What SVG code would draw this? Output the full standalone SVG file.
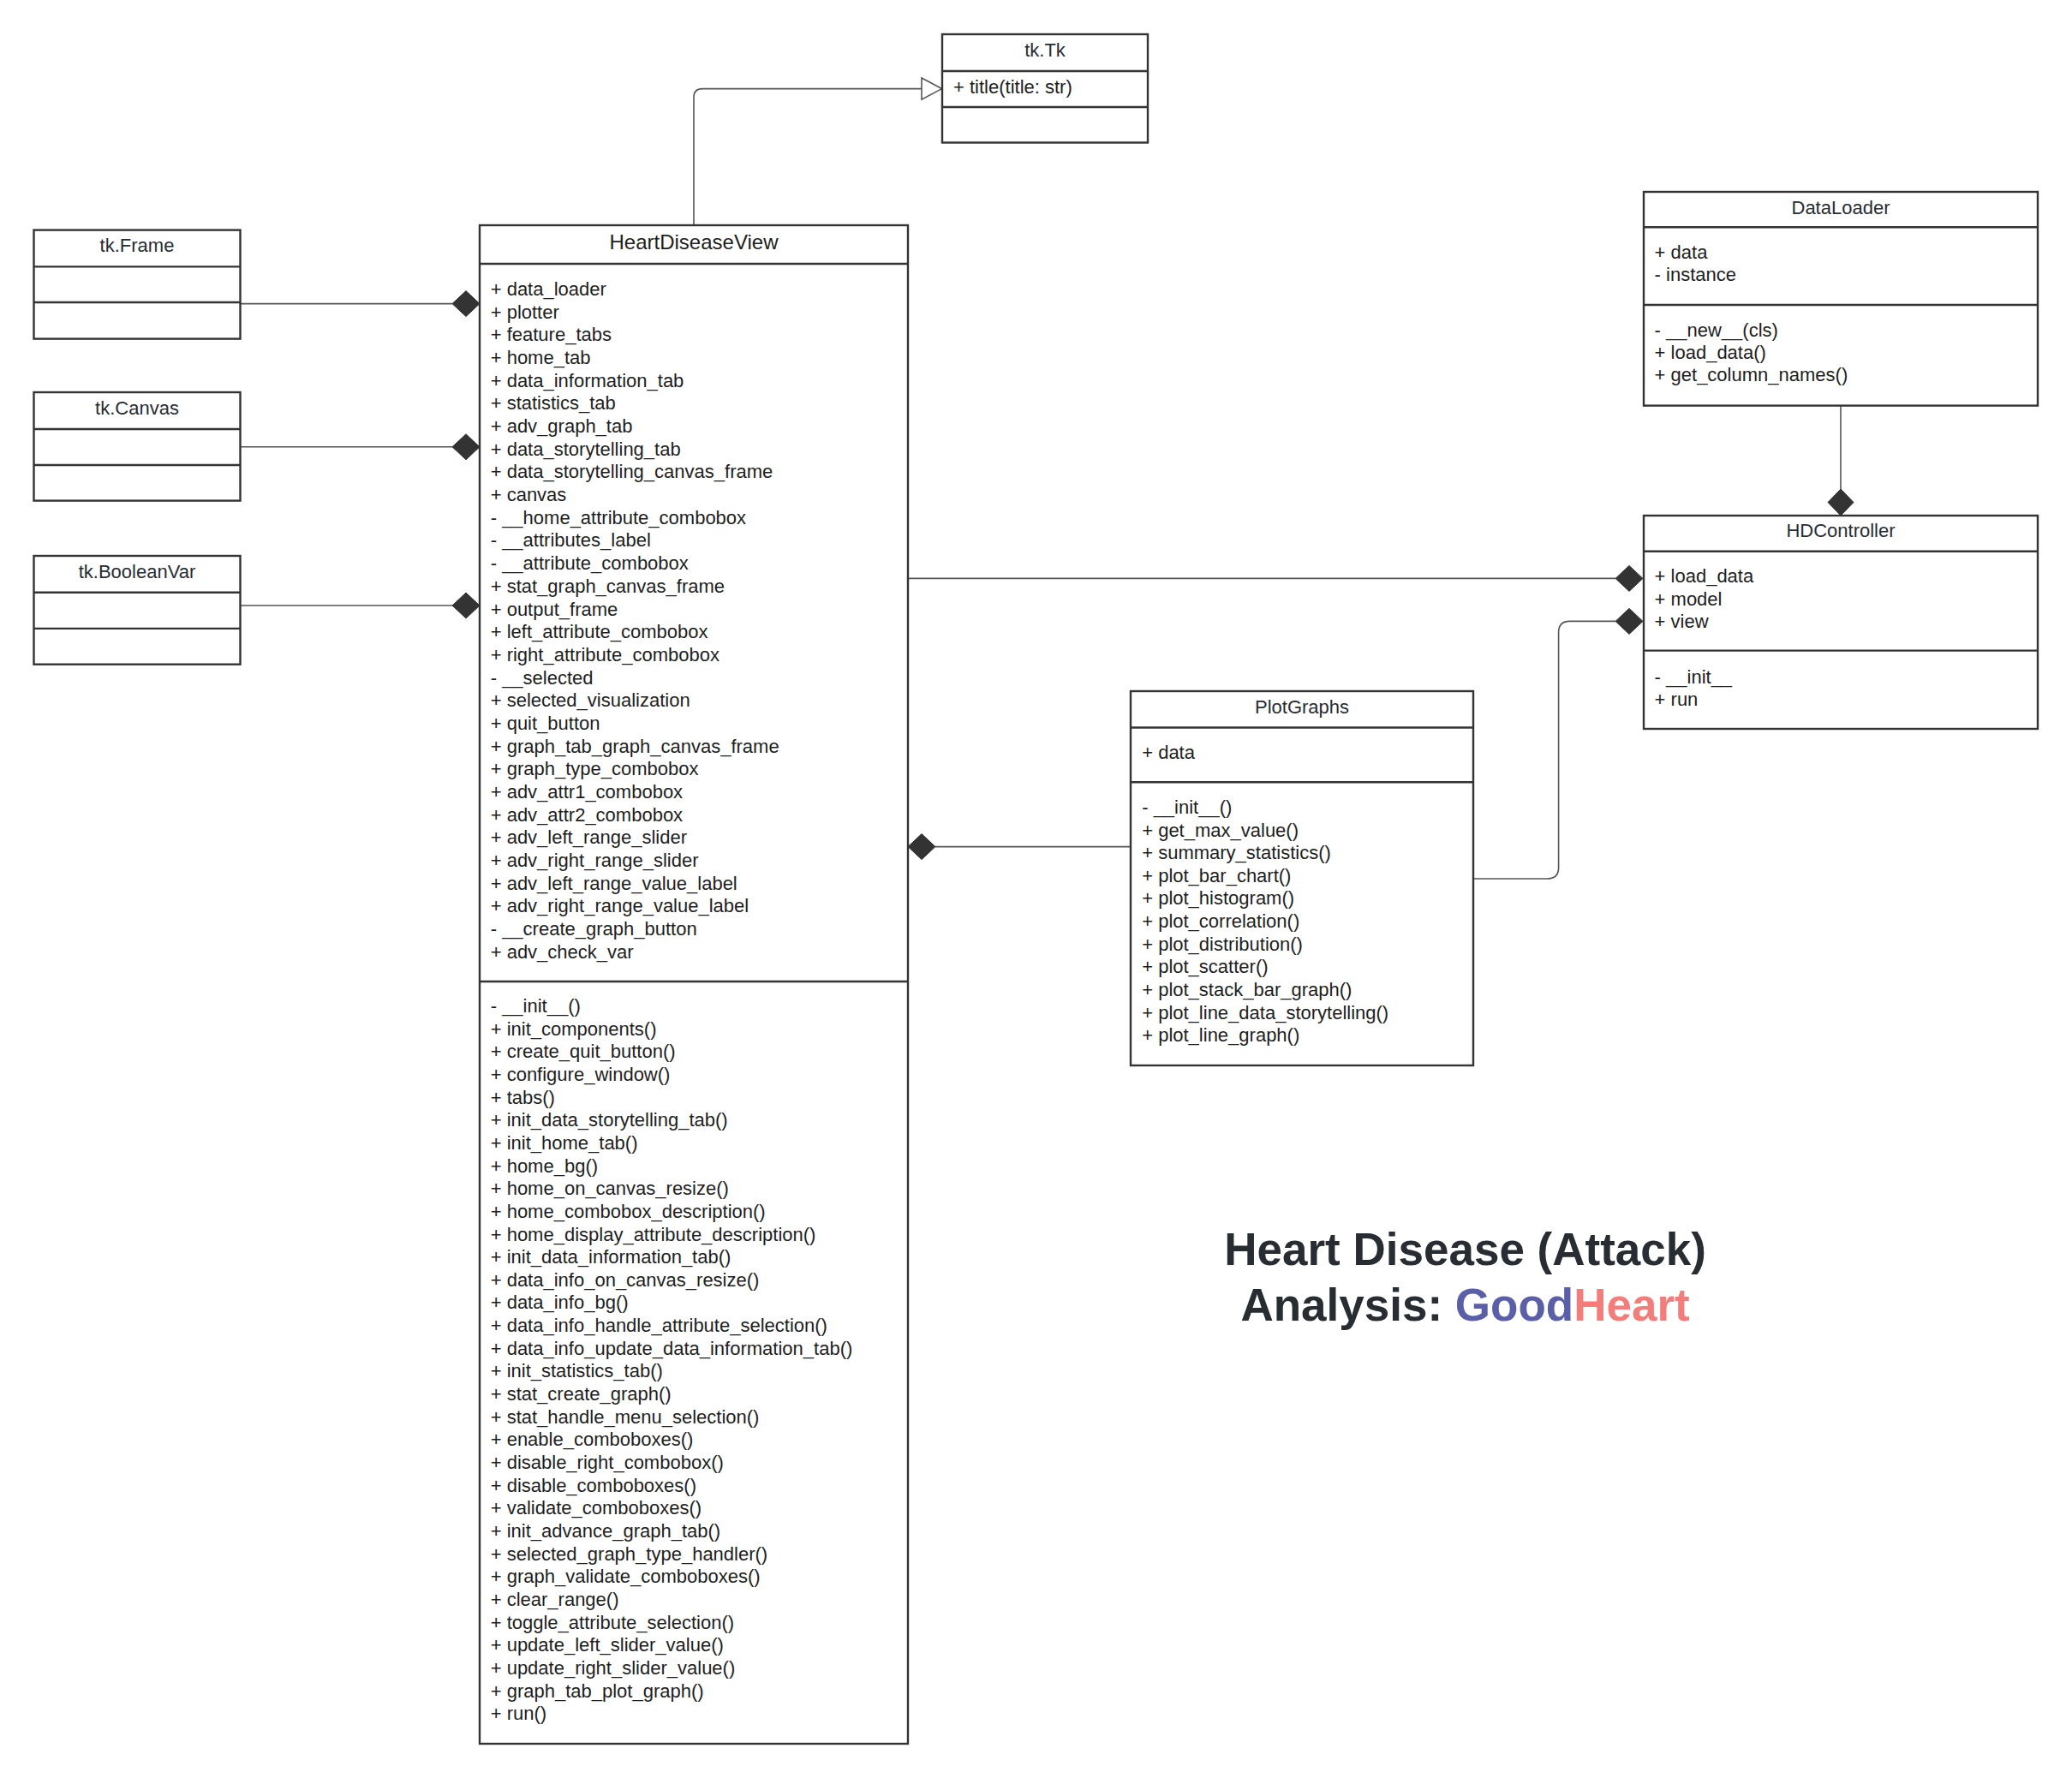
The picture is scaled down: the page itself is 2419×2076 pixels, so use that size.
<svg xmlns="http://www.w3.org/2000/svg" width="2419" height="2076" viewBox="0 0 2419 2076">
<style>
.bg{fill:#ffffff}
.box{fill:#ffffff;stroke:#333333;stroke-width:2.4}
.sep{stroke:#333333;stroke-width:2.4}
.hd{font-family:"Liberation Sans",Arial,sans-serif;font-size:22px;fill:#282c33;text-anchor:middle}
.hdl{font-family:"Liberation Sans",Arial,sans-serif;font-size:24px;fill:#1e1e1e;text-anchor:middle}
.tx{font-family:"Liberation Sans",Arial,sans-serif;font-size:22px;fill:#1e1e1e}
.conn{fill:none;stroke:#555555;stroke-width:1.6}
.dia{fill:#333333;stroke:#333333;stroke-width:1}
.tri{fill:#ffffff;stroke:#555555;stroke-width:1.6}
.title{font-family:"Liberation Sans",Arial,sans-serif;font-size:53px;font-weight:bold;fill:#282c33;text-anchor:middle}
</style>
<rect class="bg" x="0" y="0" width="2419" height="2076"/>

<g id="connectors">
  <!-- generalization HDV -> tk.Tk -->
  <path class="conn" d="M810 263 V113.6 Q810 103.6 820 103.6 H1076"/>
  <polygon class="tri" points="1076,91 1099.5,103.6 1076,116.2"/>
  <!-- tk.Frame -> HDV -->
  <line class="conn" x1="281" y1="354.6" x2="528" y2="354.6"/>
  <polygon class="dia" points="528,354.6 544,339.6 560,354.6 544,369.6"/>
  <!-- tk.Canvas -> HDV -->
  <line class="conn" x1="281" y1="521.8" x2="528" y2="521.8"/>
  <polygon class="dia" points="528,521.8 544,506.8 560,521.8 544,536.8"/>
  <!-- tk.BooleanVar -> HDV -->
  <line class="conn" x1="281" y1="707" x2="528" y2="707"/>
  <polygon class="dia" points="528,707 544,692 560,707 544,722"/>
  <!-- HDV -> HDController -->
  <line class="conn" x1="1061" y1="675.4" x2="1886" y2="675.4"/>
  <polygon class="dia" points="1886,675.4 1902,660.4 1918,675.4 1902,690.4"/>
  <!-- PlotGraphs -> HDV -->
  <line class="conn" x1="1092" y1="988.6" x2="1319" y2="988.6"/>
  <polygon class="dia" points="1060,988.6 1076,973.6 1092,988.6 1076,1003.6"/>
  <!-- PlotGraphs -> HDController -->
  <path class="conn" d="M1721 1026 H1806.6 Q1819.6 1026 1819.6 1013 V738.4 Q1819.6 725.4 1832.6 725.4 H1886"/>
  <polygon class="dia" points="1886,725.4 1902,710.4 1918,725.4 1902,740.4"/>
  <!-- DataLoader -> HDController -->
  <line class="conn" x1="2149" y1="474" x2="2149" y2="571"/>
  <polygon class="dia" points="2149,571 2164,586.5 2149,602 2134,586.5"/>
</g>

<g id="tk-Tk">
  <rect class="box" x="1100" y="40" width="240" height="126.5"/>
  <line class="sep" x1="1100" y1="83" x2="1340" y2="83"/>
  <line class="sep" x1="1100" y1="125" x2="1340" y2="125"/>
  <text class="hd" x="1220" y="66.2">tk.Tk</text>
  <text class="tx" x="1113" y="108.8">+ title(title: str)</text>
</g>

<g id="tk-Frame">
  <rect class="box" x="39.5" y="268.6" width="241" height="127"/>
  <line class="sep" x1="39.5" y1="311.4" x2="280.5" y2="311.4"/>
  <line class="sep" x1="39.5" y1="353" x2="280.5" y2="353"/>
  <text class="hd" x="160" y="294.3">tk.Frame</text>
</g>

<g id="tk-Canvas">
  <rect class="box" x="39.5" y="458" width="241" height="126.6"/>
  <line class="sep" x1="39.5" y1="501" x2="280.5" y2="501"/>
  <line class="sep" x1="39.5" y1="543" x2="280.5" y2="543"/>
  <text class="hd" x="160" y="484.3">tk.Canvas</text>
</g>

<g id="tk-BooleanVar">
  <rect class="box" x="39.5" y="649" width="241" height="126.7"/>
  <line class="sep" x1="39.5" y1="691.8" x2="280.5" y2="691.8"/>
  <line class="sep" x1="39.5" y1="733.9" x2="280.5" y2="733.9"/>
  <text class="hd" x="160" y="675">tk.BooleanVar</text>
</g>

<g id="HeartDiseaseView">
  <rect class="box" x="560" y="263" width="500" height="1773"/>
  <line class="sep" x1="560" y1="308" x2="1060" y2="308"/>
  <line class="sep" x1="560" y1="1146" x2="1060" y2="1146"/>
  <text class="hdl" x="810" y="291">HeartDiseaseView</text>
  <text class="tx" x="572.7" y="345">
    <tspan x="572.7" dy="0">+ data_loader</tspan>
    <tspan x="572.7" dy="26.68">+ plotter</tspan>
    <tspan x="572.7" dy="26.68">+ feature_tabs</tspan>
    <tspan x="572.7" dy="26.68">+ home_tab</tspan>
    <tspan x="572.7" dy="26.68">+ data_information_tab</tspan>
    <tspan x="572.7" dy="26.68">+ statistics_tab</tspan>
    <tspan x="572.7" dy="26.68">+ adv_graph_tab</tspan>
    <tspan x="572.7" dy="26.68">+ data_storytelling_tab</tspan>
    <tspan x="572.7" dy="26.68">+ data_storytelling_canvas_frame</tspan>
    <tspan x="572.7" dy="26.68">+ canvas</tspan>
    <tspan x="572.7" dy="26.68">- __home_attribute_combobox</tspan>
    <tspan x="572.7" dy="26.68">- __attributes_label</tspan>
    <tspan x="572.7" dy="26.68">- __attribute_combobox</tspan>
    <tspan x="572.7" dy="26.68">+ stat_graph_canvas_frame</tspan>
    <tspan x="572.7" dy="26.68">+ output_frame</tspan>
    <tspan x="572.7" dy="26.68">+ left_attribute_combobox</tspan>
    <tspan x="572.7" dy="26.68">+ right_attribute_combobox</tspan>
    <tspan x="572.7" dy="26.68">- __selected</tspan>
    <tspan x="572.7" dy="26.68">+ selected_visualization</tspan>
    <tspan x="572.7" dy="26.68">+ quit_button</tspan>
    <tspan x="572.7" dy="26.68">+ graph_tab_graph_canvas_frame</tspan>
    <tspan x="572.7" dy="26.68">+ graph_type_combobox</tspan>
    <tspan x="572.7" dy="26.68">+ adv_attr1_combobox</tspan>
    <tspan x="572.7" dy="26.68">+ adv_attr2_combobox</tspan>
    <tspan x="572.7" dy="26.68">+ adv_left_range_slider</tspan>
    <tspan x="572.7" dy="26.68">+ adv_right_range_slider</tspan>
    <tspan x="572.7" dy="26.68">+ adv_left_range_value_label</tspan>
    <tspan x="572.7" dy="26.68">+ adv_right_range_value_label</tspan>
    <tspan x="572.7" dy="26.68">- __create_graph_button</tspan>
    <tspan x="572.7" dy="26.68">+ adv_check_var</tspan>
  </text>
  <text class="tx" x="572.7" y="1182">
    <tspan x="572.7" dy="0">- __init__()</tspan>
    <tspan x="572.7" dy="26.65">+ init_components()</tspan>
    <tspan x="572.7" dy="26.65">+ create_quit_button()</tspan>
    <tspan x="572.7" dy="26.65">+ configure_window()</tspan>
    <tspan x="572.7" dy="26.65">+ tabs()</tspan>
    <tspan x="572.7" dy="26.65">+ init_data_storytelling_tab()</tspan>
    <tspan x="572.7" dy="26.65">+ init_home_tab()</tspan>
    <tspan x="572.7" dy="26.65">+ home_bg()</tspan>
    <tspan x="572.7" dy="26.65">+ home_on_canvas_resize()</tspan>
    <tspan x="572.7" dy="26.65">+ home_combobox_description()</tspan>
    <tspan x="572.7" dy="26.65">+ home_display_attribute_description()</tspan>
    <tspan x="572.7" dy="26.65">+ init_data_information_tab()</tspan>
    <tspan x="572.7" dy="26.65">+ data_info_on_canvas_resize()</tspan>
    <tspan x="572.7" dy="26.65">+ data_info_bg()</tspan>
    <tspan x="572.7" dy="26.65">+ data_info_handle_attribute_selection()</tspan>
    <tspan x="572.7" dy="26.65">+ data_info_update_data_information_tab()</tspan>
    <tspan x="572.7" dy="26.65">+ init_statistics_tab()</tspan>
    <tspan x="572.7" dy="26.65">+ stat_create_graph()</tspan>
    <tspan x="572.7" dy="26.65">+ stat_handle_menu_selection()</tspan>
    <tspan x="572.7" dy="26.65">+ enable_comboboxes()</tspan>
    <tspan x="572.7" dy="26.65">+ disable_right_combobox()</tspan>
    <tspan x="572.7" dy="26.65">+ disable_comboboxes()</tspan>
    <tspan x="572.7" dy="26.65">+ validate_comboboxes()</tspan>
    <tspan x="572.7" dy="26.65">+ init_advance_graph_tab()</tspan>
    <tspan x="572.7" dy="26.65">+ selected_graph_type_handler()</tspan>
    <tspan x="572.7" dy="26.65">+ graph_validate_comboboxes()</tspan>
    <tspan x="572.7" dy="26.65">+ clear_range()</tspan>
    <tspan x="572.7" dy="26.65">+ toggle_attribute_selection()</tspan>
    <tspan x="572.7" dy="26.65">+ update_left_slider_value()</tspan>
    <tspan x="572.7" dy="26.65">+ update_right_slider_value()</tspan>
    <tspan x="572.7" dy="26.65">+ graph_tab_plot_graph()</tspan>
    <tspan x="572.7" dy="26.65">+ run()</tspan>
  </text>
</g>

<g id="DataLoader">
  <rect class="box" x="1919" y="224" width="460" height="249.6"/>
  <line class="sep" x1="1919" y1="265.3" x2="2379" y2="265.3"/>
  <line class="sep" x1="1919" y1="356" x2="2379" y2="356"/>
  <text class="hd" x="2149" y="249.8">DataLoader</text>
  <text class="tx" x="1931.6" y="302">
    <tspan x="1931.6" dy="0">+ data</tspan>
    <tspan x="1931.6" dy="26.2">- instance</tspan>
  </text>
  <text class="tx" x="1931.6" y="393.2">
    <tspan x="1931.6" dy="0">- __new__(cls)</tspan>
    <tspan x="1931.6" dy="26.1">+ load_data()</tspan>
    <tspan x="1931.6" dy="26.1">+ get_column_names()</tspan>
  </text>
</g>

<g id="HDController">
  <rect class="box" x="1919" y="602" width="460" height="249"/>
  <line class="sep" x1="1919" y1="643.8" x2="2379" y2="643.8"/>
  <line class="sep" x1="1919" y1="759.6" x2="2379" y2="759.6"/>
  <text class="hd" x="2149" y="627.3">HDController</text>
  <text class="tx" x="1931.6" y="680.2">
    <tspan x="1931.6" dy="0">+ load_data</tspan>
    <tspan x="1931.6" dy="26.3">+ model</tspan>
    <tspan x="1931.6" dy="26.3">+ view</tspan>
  </text>
  <text class="tx" x="1931.6" y="797.7">
    <tspan x="1931.6" dy="0">- __init__</tspan>
    <tspan x="1931.6" dy="26.5">+ run</tspan>
  </text>
</g>

<g id="PlotGraphs">
  <rect class="box" x="1320" y="807" width="400" height="437"/>
  <line class="sep" x1="1320" y1="849.5" x2="1720" y2="849.5"/>
  <line class="sep" x1="1320" y1="913.2" x2="1720" y2="913.2"/>
  <text class="hd" x="1520" y="832.7">PlotGraphs</text>
  <text class="tx" x="1333.2" y="886.2">+ data</text>
  <text class="tx" x="1333.2" y="950">
    <tspan x="1333.2" dy="0">- __init__()</tspan>
    <tspan x="1333.2" dy="26.62">+ get_max_value()</tspan>
    <tspan x="1333.2" dy="26.62">+ summary_statistics()</tspan>
    <tspan x="1333.2" dy="26.62">+ plot_bar_chart()</tspan>
    <tspan x="1333.2" dy="26.62">+ plot_histogram()</tspan>
    <tspan x="1333.2" dy="26.62">+ plot_correlation()</tspan>
    <tspan x="1333.2" dy="26.62">+ plot_distribution()</tspan>
    <tspan x="1333.2" dy="26.62">+ plot_scatter()</tspan>
    <tspan x="1333.2" dy="26.62">+ plot_stack_bar_graph()</tspan>
    <tspan x="1333.2" dy="26.62">+ plot_line_data_storytelling()</tspan>
    <tspan x="1333.2" dy="26.62">+ plot_line_graph()</tspan>
  </text>
</g>

<g id="title">
  <text class="title" x="1710.6" y="1477.3">Heart Disease (Attack)</text>
  <text class="title" x="1710.6" y="1541.6">Analysis: <tspan fill="#5b5fa8">Good</tspan><tspan fill="#f37d7a">Heart</tspan></text>
</g>
</svg>
